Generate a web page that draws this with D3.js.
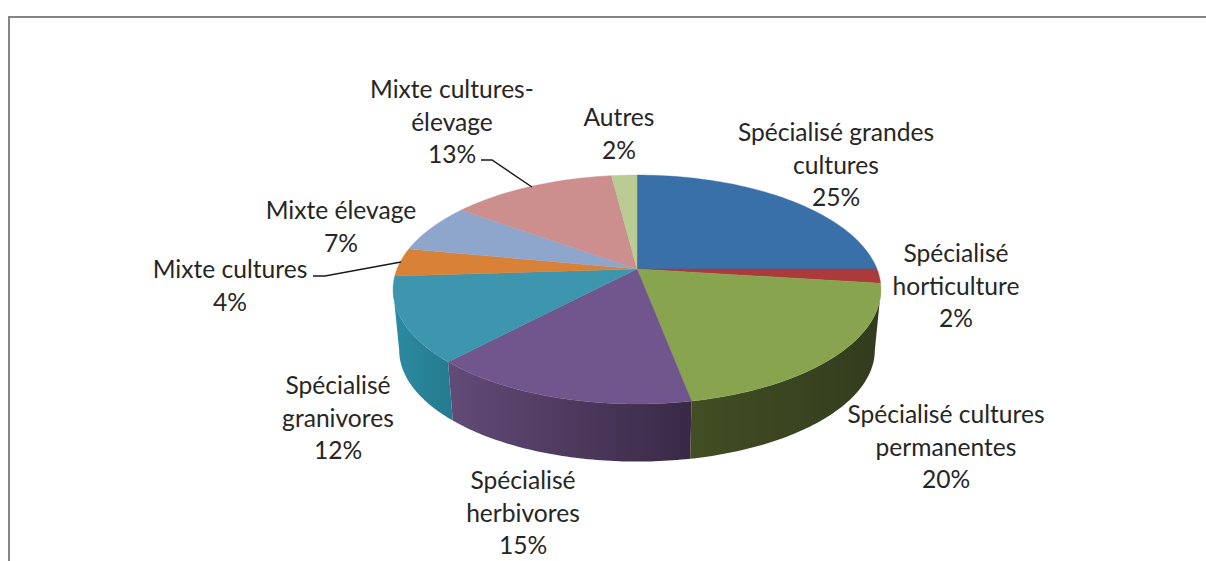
<!DOCTYPE html>
<meta charset="utf-8">
<script src="https://d3js.org/d3.v7.min.js"></script>
<style>
    html, body {
        margin: 0;
        background: #fff;
    }
    text {
        font-family: Lato, "Open Sans", sans-serif;
        font-size: 24.6px;
        fill: #262626;
        text-anchor: middle;
    }
</style>
<div id="viz_area"></div>
<script>
    // values in percent, clockwise from 12 o'clock
    var categories = ["Spécialisé grandes cultures", "Spécialisé horticulture", "Spécialisé cultures permanentes",
        "Spécialisé herbivores", "Spécialisé granivores", "Mixte cultures", "Mixte élevage", "Mixte cultures-élevage", "Autres"]
    var values = [25, 2, 20, 15, 12, 4, 7, 13, 2]
    var topColors = ["#3a70a8", "#aa3b3a", "#88a44e", "#70568c", "#3e95ae", "#da8138", "#8fa6cc", "#cd8e8e", "#b8cc94"]
    var wallFrom = ["#2f5a87", "#882f2e", "#424e23", "#624b78", "#2c8ba1", "#ae672c", "#7285a3", "#a47171", "#93a376"]
    var wallTo = ["#2f5a87", "#882f2e", "#323c1e", "#392945", "#257a8e", "#ae672c", "#7285a3", "#a47171", "#93a376"]

    // how each label is broken over lines, and where it sits
    var labelLines = [["Spécialisé grandes", "cultures"], ["Spécialisé", "horticulture"], ["Spécialisé cultures", "permanentes"],
        ["Spécialisé", "herbivores"], ["Spécialisé", "granivores"], ["Mixte cultures"], ["Mixte élevage"], ["Mixte cultures-", "élevage"], ["Autres"]]
    var labelX = [836, 956, 946, 523, 338, 230, 341, 452, 619]
    var labelY = [133, 254, 415, 481, 386, 270, 211, 90, 118]
    var lineGap = 32.5

    // leader lines for the two labels that sit away from their slice
    var leaders = [
        [[313, 276], [325, 276], [401, 262]],
        [[481, 160], [492, 160], [532, 187]]
    ]

    var w = 1206, h = 561
    var svg = d3.select("#viz_area").append("svg")
        .attr("width", w)
        .attr("height", h)
        .style("display", "block")

    // frame, runs off the page on the right and at the bottom
    svg.append("path")
        .attr("d", "M9,561V17H1206")
        .attr("fill", "none")
        .attr("stroke", "#858585")
        .attr("stroke-width", 2)

    // perspective of a tilted disc: k is the foreshortening, the rest the size on screen
    var k = 0.179
    var x = d3.scaleLinear().domain([-1, 1]).range([397, 877])
    var y = d3.scaleLinear().domain([-1, 1]).range([158.2, 379.8])
    var wallScale = 0.975
    var wallDrop = 61

    function topPoint(a) {
        var u = Math.sin(a), v = -Math.cos(a), d = 1 - k * v
        return [x(u / d), y(v / d)]
    }

    function bottomPoint(a) {
        var p = topPoint(a)
        return [x(0) + (p[0] - x(0)) * wallScale, y(0) + (p[1] - y(0)) * wallScale + wallDrop]
    }

    var pie = d3.pie().sort(null)
    var arcs = pie(values)
    var line = d3.line()

    function sample(a0, a1) {
        return d3.range(0, 61).map(function(i) {
            return a0 + (a1 - a0) * i / 60
        })
    }

    var defs = svg.append("defs")
    arcs.forEach(function(d, i) {
        var grad = defs.append("linearGradient").attr("id", "wall-" + i)
        grad.append("stop").attr("offset", "0").attr("stop-color", wallFrom[i])
        grad.append("stop").attr("offset", "1").attr("stop-color", wallTo[i])
    })

    // side walls, only what lies between the two tangent points of the disc shows
    var tangent = Math.asin(k)
    var front = arcs.map(function(d, i) {
        return { i: i, a0: Math.max(d.startAngle, Math.PI / 2 + tangent), a1: Math.min(d.endAngle, Math.PI * 1.5 - tangent) }
    }).filter(function(d) {
        return d.a1 > d.a0
    })

    svg.selectAll(".wall")
        .data(front)
        .enter().append("path")
        .attr("class", "wall")
        .attr("fill", function(d) { return "url(#wall-" + d.i + ")" })
        .attr("d", function(d) {
            var angles = sample(d.a0, d.a1)
            return line(angles.map(topPoint).concat(angles.slice().reverse().map(bottomPoint))) + "Z"
        })

    // top face
    svg.selectAll(".slice")
        .data(arcs)
        .enter().append("path")
        .attr("class", "slice")
        .attr("fill", function(d, i) { return topColors[i] })
        .attr("stroke", function(d, i) { return topColors[i] })
        .attr("stroke-width", 0.4)
        .attr("d", function(d) {
            return line([[x(0), y(0)]].concat(sample(d.startAngle, d.endAngle).map(topPoint))) + "Z"
        })

    svg.selectAll(".leader")
        .data(leaders)
        .enter().append("path")
        .attr("class", "leader")
        .attr("fill", "none")
        .attr("stroke", "#1a1a1a")
        .attr("stroke-width", 1.5)
        .attr("d", function(d) { return line(d) })

    var labels = svg.selectAll(".label")
        .data(categories)
        .enter().append("text")
        .attr("class", "label")

    labels.each(function(d, i) {
        var rows = labelLines[i].concat([values[i] + "%"])
        d3.select(this).selectAll("tspan")
            .data(rows)
            .enter().append("tspan")
            .attr("x", labelX[i])
            .attr("y", function(r, j) { return labelY[i] + 8 + j * lineGap })
            .text(function(r) { return r })
    })
</script>
